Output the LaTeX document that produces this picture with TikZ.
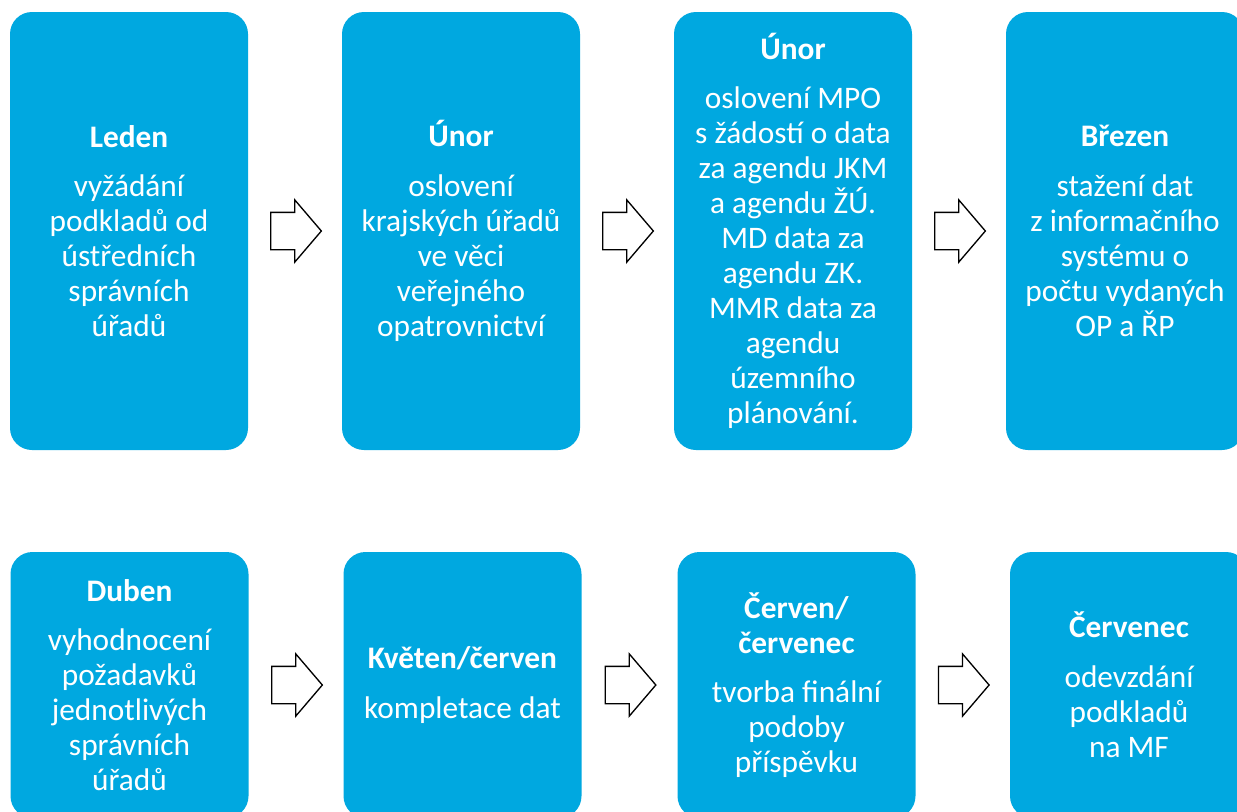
\documentclass[tikz,border=0pt]{standalone}
\usepackage{fontspec}
\setmainfont{Carlito}
\usetikzlibrary{shapes.arrows,calc}

\definecolor{stepblue}{RGB}{0,168,224}

\tikzset{
  box/.style={fill=stepblue,rounded corners=16.5pt,minimum width=178.5pt,
    text=white,align=center,inner sep=0pt,
    font=\fontsize{23.5}{26.25}\selectfont},
  tallbox/.style={box,minimum height=328.5pt},
  lowbox/.style={box,minimum height=199.5pt},
  blockarrow/.style={single arrow,draw=black,fill=white,line width=1pt,
    minimum height=38pt,inner xsep=0pt,inner ysep=13.5pt,
    single arrow head extend=9.4pt,single arrow head indent=0pt,
    single arrow tip angle=99,anchor=tail,xshift=-18.75pt}
}

\begin{document}
\begin{tikzpicture}[x=0.75pt,y=-0.75pt]
        \clip (0,0) rectangle (1237,811);
        \fill[white] (0,0) rectangle (1237,811);

        % top row
        \node[tallbox] (b1) at (129,231)
         {\textbf{Leden}\\[11pt]vyžádání\\podkladů od\\ústředních\\správních\\úřadů};
        \node[tallbox] (b2) at (461,231)
         {\textbf{Únor}\\[11pt]oslovení\\krajských úřadů\\ve věci\\veřejného\\opatrovnictví};
        \node[tallbox] (b3) at (793,231)
         {\textbf{Únor}\\[11pt]oslovení MPO\\s žádostí o data\\za agendu JKM\\a agendu ŽÚ.\\MD data za\\agendu ZK.\\MMR data za\\agendu\\územního\\plánování.};
        \node[tallbox] (b4) at (1125,231)
         {\textbf{Březen}\\[11pt]stažení dat\\z informačního\\systému o\\počtu vydaných\\OP a ŘP};

        % bottom row
        \node[lowbox] (b5) at (129.5,685)
         {\textbf{Duben}\\[11pt]vyhodnocení\\požadavků\\jednotlivých\\správních\\úřadů};
        \node[lowbox] (b6) at (462.5,685)
         {\textbf{Květen/červen}\\[11pt]kompletace dat};
        \node[lowbox] (b7) at (796.5,685)
         {\textbf{Červen/}\\\textbf{červenec}\\[11pt]tvorba finální\\podoby\\příspěvku};
        \node[lowbox] (b8) at (1129,685)
         {\textbf{Červenec}\\[11pt]odevzdání\\podkladů\\na MF};

        \node[blockarrow] (a1) at ($(b1.east)!0.5!(b2.west)$) {};
        \node[blockarrow] (a2) at ($(b2.east)!0.5!(b3.west)$) {};
        \node[blockarrow] (a3) at ($(b3.east)!0.5!(b4.west)$) {};
        \node[blockarrow] (a4) at ($(b5.east)!0.5!(b6.west)$) {};
        \node[blockarrow] (a5) at ($(b6.east)!0.5!(b7.west)$) {};
        \node[blockarrow] (a6) at ($(b7.east)!0.5!(b8.west)$) {};
\end{tikzpicture}
\end{document}
